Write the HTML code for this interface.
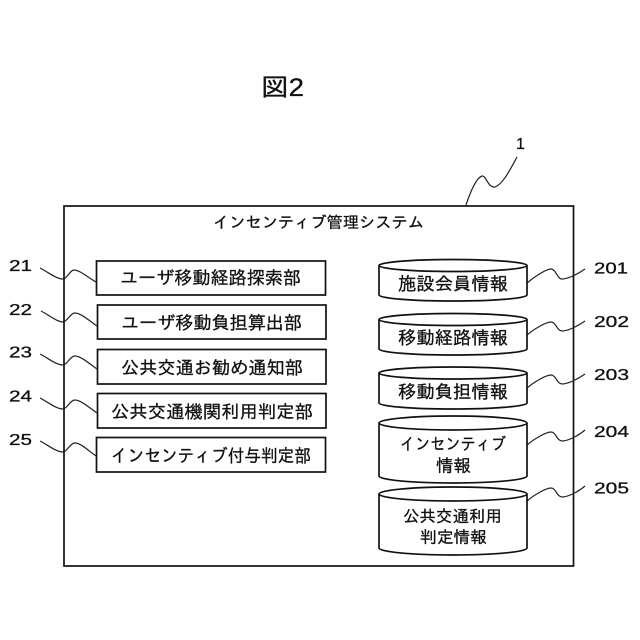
<!DOCTYPE html>
<html lang="ja">
<head>
<meta charset="utf-8">
<title>図2</title>
<style>
html,body{margin:0;padding:0;background:#fff}
svg{display:block}
text{font-family:"Liberation Sans","IPAGothic","Noto Sans CJK JP",sans-serif;fill:#111;stroke:#111;stroke-width:.3}
.s{fill:none;stroke:#111;stroke-width:1.7}
.b{fill:#fff;stroke:#111;stroke-width:1.7}
.l{fill:none;stroke:#222;stroke-width:1.2}
</style>
</head>
<body>
<svg width="640" height="640" viewBox="0 0 640 640" xmlns="http://www.w3.org/2000/svg">
<rect width="640" height="640" fill="#fff"/>
<text x="261" y="96" font-size="25" textLength="43" lengthAdjust="spacingAndGlyphs">図2</text>
<text x="516" y="149" font-size="16">1</text>
<path class="l" d="M517 157C510 170 503 184 495 187C488 188 486 175 482 176C476 178 470 193 466 205"/>
<rect class="s" x="64" y="206" width="509.500" height="360"/>
<text x="213" y="228" font-size="16" textLength="211" lengthAdjust="spacingAndGlyphs">インセンティブ管理システム</text>

<g class="boxes">
<rect class="b" x="96.500" y="261" width="229" height="34"/>
<rect class="b" x="97.500" y="305" width="228.500" height="34"/>
<rect class="b" x="97.500" y="349.500" width="228.500" height="34.500"/>
<rect class="b" x="97.500" y="393.500" width="228.500" height="34.500"/>
<rect class="b" x="96.500" y="437.500" width="229" height="34.500"/>
</g>
<text x="120" y="284" font-size="18" textLength="181" lengthAdjust="spacingAndGlyphs">ユーザ移動経路探索部</text>
<text x="121" y="329" font-size="18" textLength="181" lengthAdjust="spacingAndGlyphs">ユーザ移動負担算出部</text>
<text x="121" y="374" font-size="18" textLength="182" lengthAdjust="spacingAndGlyphs">公共交通お勧め通知部</text>
<text x="111" y="418" font-size="18" textLength="202" lengthAdjust="spacingAndGlyphs">公共交通機関利用判定部</text>
<text x="111" y="462" font-size="18" textLength="200" lengthAdjust="spacingAndGlyphs">インセンティブ付与判定部</text>

<g font-size="16">
<text x="9" y="271" textLength="23" lengthAdjust="spacingAndGlyphs">21</text>
<text x="9" y="315" textLength="23" lengthAdjust="spacingAndGlyphs">22</text>
<text x="9" y="357.500" textLength="23" lengthAdjust="spacingAndGlyphs">23</text>
<text x="9" y="401.500" textLength="23" lengthAdjust="spacingAndGlyphs">24</text>
<text x="9" y="445" textLength="23" lengthAdjust="spacingAndGlyphs">25</text>
<text x="594" y="273.500" textLength="34" lengthAdjust="spacingAndGlyphs">201</text>
<text x="594" y="327" textLength="35" lengthAdjust="spacingAndGlyphs">202</text>
<text x="594" y="380" textLength="35" lengthAdjust="spacingAndGlyphs">203</text>
<text x="594" y="437" textLength="35" lengthAdjust="spacingAndGlyphs">204</text>
<text x="594" y="493.500" textLength="35" lengthAdjust="spacingAndGlyphs">205</text>
</g>

<path class="l" d="M40 268C48 272 56 279 63 279C67 279 70 270 74 270C80 270 90 279 96 282"/>
<path class="l" d="M41 311C49 315 57 322 63 322C67 322 70 313 75 313C81 313 91 322 97 326"/>
<path class="l" d="M40 354C48 358 56 365 63 365C67 365 70 356 75 356C81 356 91 365 97 369"/>
<path class="l" d="M40 398C48 402 56 409 63 409C67 409 70 400 75 400C81 400 91 409 97 413"/>
<path class="l" d="M40 441C48 445 56 452 63 452C67 452 70 443 75 443C81 443 90 452 96 456"/>

<path class="l" d="M527 283C534 277 546 269 551 269C556 269 557 279 562 279C568 279 578 274 585 269"/>
<path class="l" d="M527 335C534 329 546 322 551 322C556 322 557 331 562 331C568 331 578 326 585 321"/>
<path class="l" d="M527 388C534 382 546 375 551 375C556 375 557 384 562 384C568 384 578 379 585 374"/>
<path class="l" d="M527 445C534 439 546 432 551 432C556 432 557 441 562 441C568 441 578 436 585 430"/>
<path class="l" d="M527 501C534 495 546 488 551 488C556 488 557 497 562 497C568 497 578 492 585 486"/>

<g>
<path class="b" d="M379 265.500V295A74 6 0 0 0 527 295V265.500"/>
<ellipse class="b" cx="453" cy="265.500" rx="74" ry="6"/>
<path class="b" d="M379 319.500V349A74 6 0 0 0 527 349V319.500"/>
<ellipse class="b" cx="453" cy="319.500" rx="74" ry="6"/>
<path class="b" d="M379 373V403A74 6 0 0 0 527 403V373"/>
<ellipse class="b" cx="453" cy="373" rx="74" ry="6"/>
<path class="b" d="M379 423V476A74 7 0 0 0 527 476V423"/>
<ellipse class="b" cx="453" cy="423" rx="74" ry="7"/>
<path class="b" d="M379 494V548A74 7 0 0 0 527 548V494"/>
<ellipse class="b" cx="453" cy="494" rx="74" ry="7"/>
</g>
<text x="398" y="290" font-size="18" textLength="110" lengthAdjust="spacingAndGlyphs">施設会員情報</text>
<text x="398" y="344" font-size="18" textLength="110" lengthAdjust="spacingAndGlyphs">移動経路情報</text>
<text x="398" y="398" font-size="18" textLength="110" lengthAdjust="spacingAndGlyphs">移動負担情報</text>
<text x="400" y="450" font-size="17" textLength="106" lengthAdjust="spacingAndGlyphs">インセンティブ</text>
<text x="436" y="472" font-size="17.500" textLength="35" lengthAdjust="spacingAndGlyphs">情報</text>
<text x="403" y="522" font-size="16.500" textLength="99" lengthAdjust="spacingAndGlyphs">公共交通利用</text>
<text x="420" y="543" font-size="16.500" textLength="67" lengthAdjust="spacingAndGlyphs">判定情報</text>
</svg>
</body>
</html>
